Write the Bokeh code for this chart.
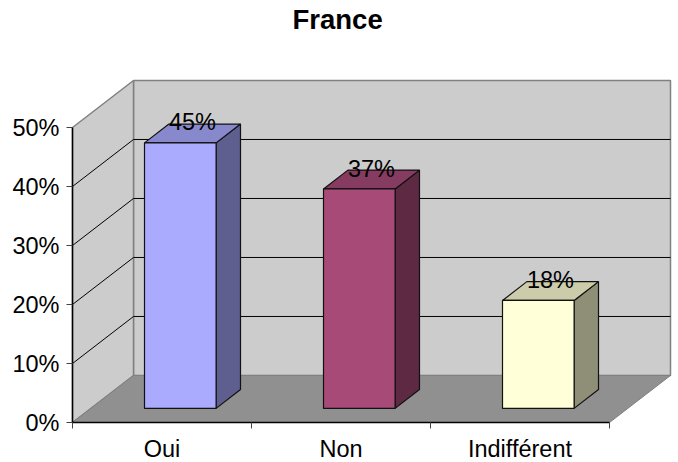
from bokeh.plotting import figure
from bokeh.models import FixedTicker, PrintfTickFormatter, Title, Range1d
from bokeh.core.properties import value
from bokeh.embed import file_html
from bokeh.resources import INLINE

title_text = "France"
categories = ["Oui", "Non", "Indifférent"]
values = [45.0, 37.2, 18.3]
labels = ["45%", "37%", "18%"]
y_ticks = [0, 10, 20, 30, 40, 50]
front_colors = ["#AAAAFF", "#A84A78", "#FFFFD8"]
top_colors = ["#8888CC", "#863B60", "#CCCCAA"]
side_colors = ["#5F5F8F", "#5E2943", "#8F8F78"]

FONT = "Liberation Sans"
DX, DY = 0.3408, 7.97      # depth offset in data units
BAR_W, Z0, Z1 = 0.4, 0.3, 0.7
YMAX = y_ticks[-1]
N = len(categories)
PX_X, PX_Y = 179.0, 5.9    # pixels per category / per percent
W, H, TOP = 672, 460, 36
ORIGIN_X, ORIGIN_Y = 72, 386  # axis origin inside the plot frame

def pt(x, y, z):
    return x + z * DX, y + z * DY

def poly(*pts):
    c = [pt(*q) for q in pts]
    return [a for a, _ in c], [b for _, b in c]

p = figure(width=W, height=H, output_backend="svg", toolbar_location=None,
           x_range=Range1d(-ORIGIN_X / PX_X, (W - ORIGIN_X) / PX_X),
           y_range=Range1d(-(H - TOP - ORIGIN_Y) / PX_Y, ORIGIN_Y / PX_Y),
           min_border_left=0, min_border_right=0, min_border_top=TOP, min_border_bottom=0,
           outline_line_color=None, background_fill_color=None)
p.grid.visible = False
p.title = Title(text=title_text, align="left", offset=292, standoff=3,
                text_font=FONT, text_font_size="27.5px", text_font_style="bold", text_color="black")

WALL, FLOOR, EDGE = "#CCCCCC", "#909090", "#808080"
xs, ys = poly((0, 0, 1), (N, 0, 1), (N, YMAX, 1), (0, YMAX, 1))
p.patch(xs, ys, fill_color=WALL, line_color=EDGE, line_width=1.5)
xs, ys = poly((0, 0, 0), (0, 0, 1), (0, YMAX, 1), (0, YMAX, 0))
p.patch(xs, ys, fill_color=WALL, line_color=EDGE, line_width=1.5)
xs, ys = poly((0, 0, 0), (N, 0, 0), (N, 0, 1), (0, 0, 1))
p.patch(xs, ys, fill_color=FLOOR, line_color=EDGE, line_width=1)

for t in y_ticks[1:-1]:
    xs, ys = poly((0, t, 0), (0, t, 1), (N, t, 1))
    p.line(xs, ys, line_color="black", line_width=1)

for i, v in enumerate(values):
    x0 = i + 0.5 - BAR_W / 2
    x1 = i + 0.5 + BAR_W / 2
    xs, ys = poly((x1, 0, Z0), (x1, 0, Z1), (x1, v, Z1), (x1, v, Z0))
    p.patch(xs, ys, fill_color=side_colors[i], line_color="#111111", line_width=1.2)
    xs, ys = poly((x0, v, Z0), (x1, v, Z0), (x1, v, Z1), (x0, v, Z1))
    p.patch(xs, ys, fill_color=top_colors[i], line_color="#111111", line_width=1.2)
    xs, ys = poly((x0, 0, Z0), (x1, 0, Z0), (x1, v, Z0), (x0, v, Z0))
    p.patch(xs, ys, fill_color=front_colors[i], line_color="#111111", line_width=1.2)

lx, ly = [], []
for i, v in enumerate(values):
    a, b = pt(i + 0.5, v, 0.5)
    lx.append(a)
    ly.append(b)
p.text(lx, ly, text=labels, text_font=value(FONT), text_font_size="23.5px",
       text_align="center", text_baseline="alphabetic", y_offset=-11, text_color="black")

yax = p.yaxis[0]
yax.fixed_location = 0
yax.ticker = FixedTicker(ticks=y_ticks)
yax.formatter = PrintfTickFormatter(format="%d%%")
yax.bounds = (0, YMAX)
yax.axis_line_color = "black"
yax.axis_line_width = 1.5
yax.major_tick_line_color = "#444444"
yax.major_tick_out = 6
yax.major_tick_in = 0
yax.minor_tick_line_color = None
yax.major_label_text_font = FONT
yax.major_label_text_font_size = "23.5px"
yax.major_label_text_color = "black"
yax.major_label_standoff = 7

xax = p.xaxis[0]
xax.fixed_location = 0
mids = [i + 0.5 for i in range(N)]
xax.ticker = FixedTicker(ticks=mids, minor_ticks=list(range(N + 1)))
xax.major_label_overrides = dict(zip(mids, categories))
xax.bounds = (0, N)
xax.axis_line_color = "black"
xax.axis_line_width = 1.5
xax.major_tick_line_color = None
xax.minor_tick_line_color = "#444444"
xax.minor_tick_out = 6
xax.minor_tick_in = 0
xax.major_label_text_font = FONT
xax.major_label_text_font_size = "23.5px"
xax.major_label_text_color = "black"
xax.major_label_standoff = 7

open("out.html", "w").write(file_html(p, INLINE))
